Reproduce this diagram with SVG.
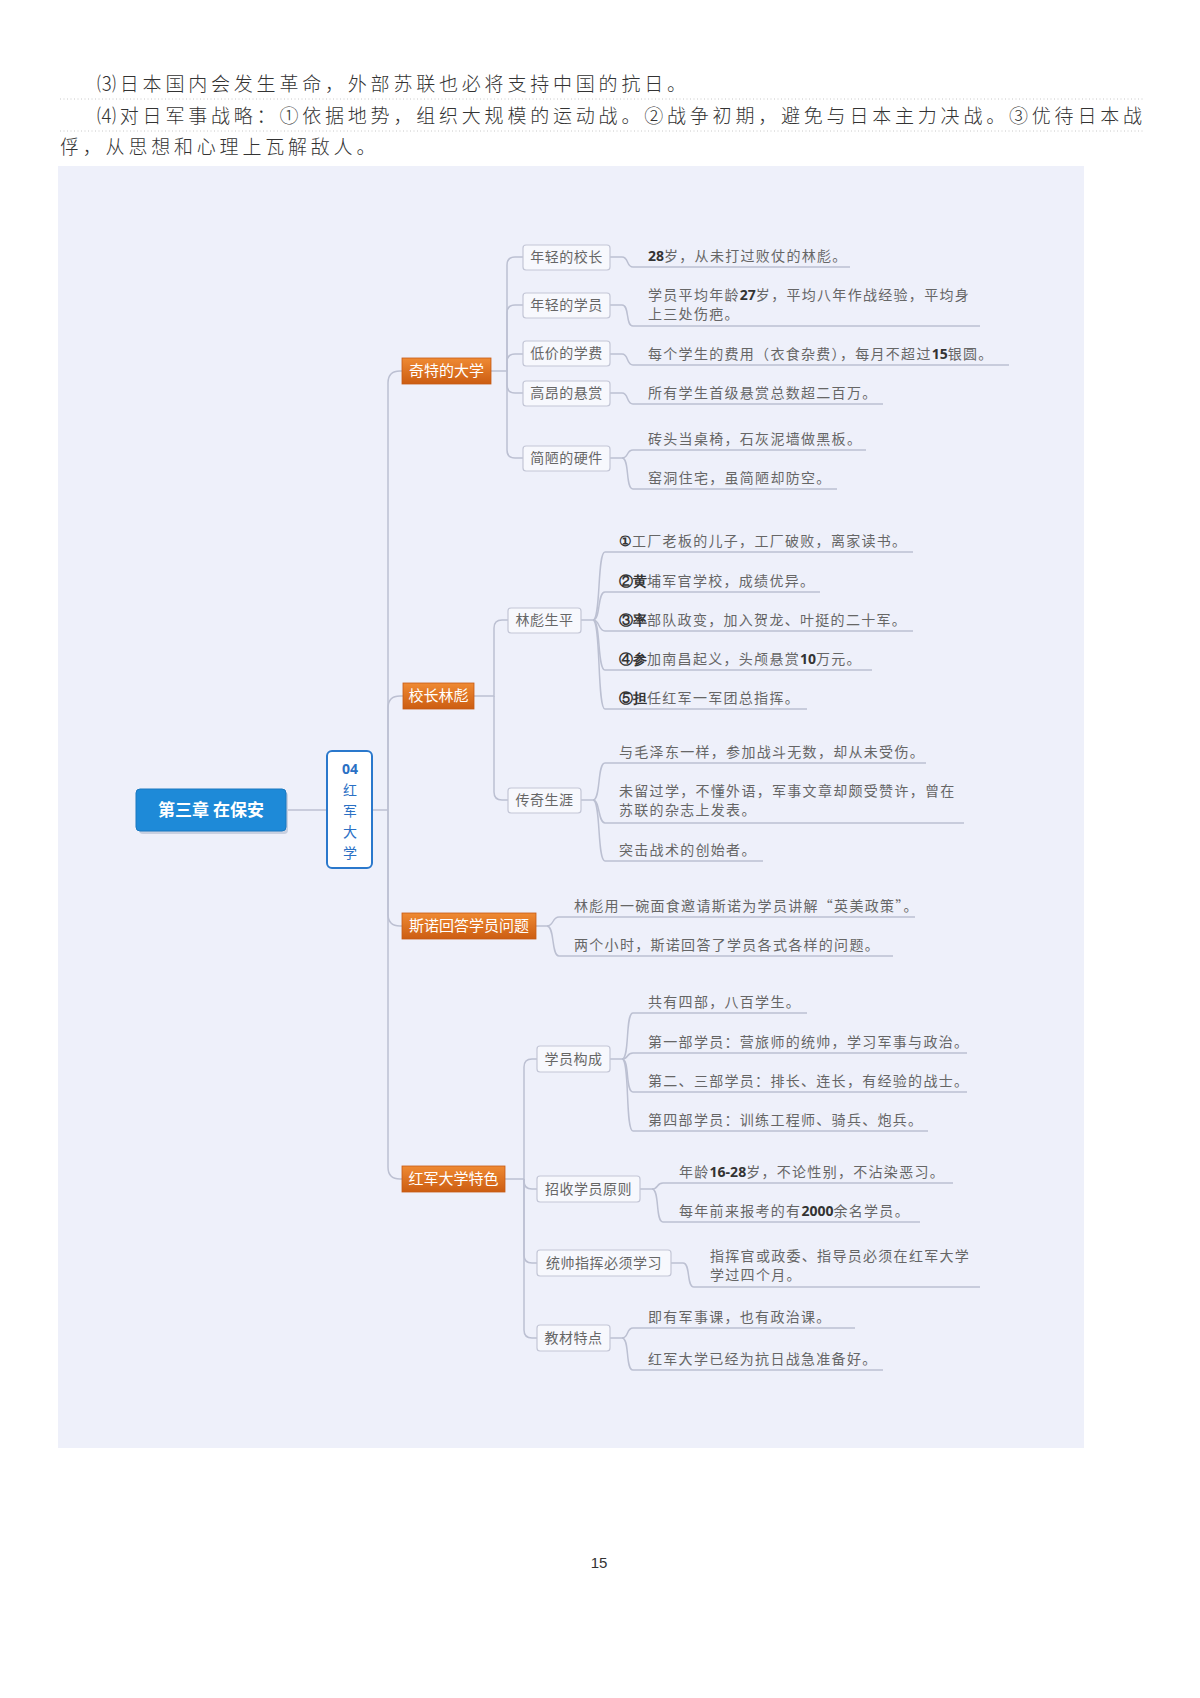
<svg xmlns="http://www.w3.org/2000/svg" width="1200" height="1698" viewBox="0 0 1200 1698">
<defs>
<style>
.top{font-family:"Noto Sans CJK SC","Liberation Serif",serif;font-size:19px;letter-spacing:3.8px;fill:#333;font-weight:300}
.dot{stroke:#c8c8c8;stroke-width:1;stroke-dasharray:1 2.5}
.con{fill:none;stroke:#bcc0d2;stroke-width:1.5}
.leaf{font-family:"Noto Sans CJK SC",sans-serif;font-size:14px;letter-spacing:1.3px;fill:#666}
.n{font-family:"Open Sans","Liberation Sans",sans-serif;font-weight:bold;fill:#333;letter-spacing:0}
.b2{fill:#f7f8fd;stroke:#c3c6d6;stroke-width:1.2}
.t2{font-family:"Noto Sans CJK SC",sans-serif;font-size:14px;fill:#666;text-anchor:middle;letter-spacing:0.5px}
.ob{fill:url(#og);stroke:#c55a14;stroke-width:0.8}
.ot{font-family:"Noto Sans CJK SC",sans-serif;font-size:15px;fill:#fff;text-anchor:middle}
.v{font-family:"Noto Sans CJK SC",sans-serif;font-size:14px;fill:#2a70c4;text-anchor:middle}
</style>
<linearGradient id="og" x1="0" y1="0" x2="0" y2="1">
<stop offset="0" stop-color="#ef8a33"/>
<stop offset="1" stop-color="#cc5d12"/>
</linearGradient>
</defs>
<rect width="1200" height="1698" fill="#fff"/>
<g id="intro">
<text class="top" x="97" y="91">⑶日本国内会发生革命，外部苏联也必将支持中国的抗日。</text>
<line class="dot" x1="60" y1="99" x2="1145" y2="99"/>
<text class="top" x="97" y="123">⑷对日军事战略：①依据地势，组织大规模的运动战。②战争初期，避免与日本主力决战。③优待日本战</text>
<line class="dot" x1="60" y1="131" x2="1145" y2="131"/>
<text class="top" x="60" y="154">俘，从思想和心理上瓦解敌人。</text>
</g>
<rect id="panel" x="58" y="166" width="1026" height="1282" fill="#eef0fa"/>
<g id="connectors">
<path class="con" d="M286,810 H327"/>
<path class="con" d="M372,810 H388"/>
<path class="con" d="M388,810 V383 Q388,371 400,371 H402"/>
<path class="con" d="M388,810 V708 Q388,696 400,696 H403"/>
<path class="con" d="M388,810 V914 Q388,926 400,926 H402"/>
<path class="con" d="M388,810 V1167 Q388,1179 400,1179 H402"/>
<path class="con" d="M491,371 H507 V265 Q507,257 515,257 H523"/>
<path class="con" d="M507,371 V313 Q507,305 515,305 H523"/>
<path class="con" d="M507,371 V362 Q507,354 515,354 H523"/>
<path class="con" d="M507,371 V385 Q507,393 515,393 H523"/>
<path class="con" d="M507,371 V450 Q507,458 515,458 H523"/>
<path class="con" d="M610,257 H622 C629,257 626,267 633,267 H850"/>
<path class="con" d="M610,305 H622 C630,305 625,326 633,326 H980"/>
<path class="con" d="M610,354 H622 C629,354 626,365 633,365 H1009"/>
<path class="con" d="M610,393 H622 C629,393 626,404 633,404 H883"/>
<path class="con" d="M610,458 H622 C629,458 626,450 633,450 H866"/>
<path class="con" d="M622,458 C630,458 625,489 633,489 H837"/>
<path class="con" d="M474,696 H494 V628 Q494,620 502,620 H508"/>
<path class="con" d="M494,696 V792 Q494,800 502,800 H508"/>
<path class="con" d="M581,620 H593 C601,620 597,552 605,552 H913"/>
<path class="con" d="M593,620 C601,620 597,592 605,592 H820"/>
<path class="con" d="M593,620 C600,620 598,631 605,631 H913"/>
<path class="con" d="M593,620 C601,620 597,670 605,670 H872"/>
<path class="con" d="M593,620 C601,620 597,709 605,709 H807"/>
<path class="con" d="M581,800 H593 C601,800 597,763 605,763 H926"/>
<path class="con" d="M593,800 C600,800 598,823 605,823 H964"/>
<path class="con" d="M593,800 C601,800 597,861 605,861 H763"/>
<path class="con" d="M536,926 H547 C554,926 552,917 559,917 H915"/>
<path class="con" d="M547,926 C555,926 551,956 559,956 H893"/>
<path class="con" d="M505,1179 H524 V1067 Q524,1059 532,1059 H537"/>
<path class="con" d="M524,1179 V1181 Q524,1189 532,1189 H537"/>
<path class="con" d="M524,1179 V1255 Q524,1263 532,1263 H537"/>
<path class="con" d="M524,1179 V1330 Q524,1338 532,1338 H537"/>
<path class="con" d="M610,1059 H622 C630,1059 625,1013 633,1013 H807"/>
<path class="con" d="M622,1059 C629,1059 626,1053 633,1053 H967"/>
<path class="con" d="M622,1059 C630,1059 625,1092 633,1092 H967"/>
<path class="con" d="M622,1059 C630,1059 625,1131 633,1131 H928"/>
<path class="con" d="M640,1189 H652 C659,1189 656,1183 663,1183 H953"/>
<path class="con" d="M652,1189 C660,1189 655,1222 663,1222 H920"/>
<path class="con" d="M671,1263 H683 C691,1263 686,1287 694,1287 H980"/>
<path class="con" d="M610,1338 H622 C629,1338 626,1328 633,1328 H855"/>
<path class="con" d="M622,1338 C630,1338 625,1370 633,1370 H883"/>
</g>
<g id="root">
<rect x="139" y="792" width="149" height="42" rx="4" fill="#c9d0e0"/>
<rect x="136" y="789" width="150" height="42" rx="4" fill="#1e8ad8" stroke="#1a78c0" stroke-width="1"/>
<text x="211" y="816" font-family="Noto Sans CJK SC,sans-serif" font-size="17" font-weight="bold" fill="#fff" text-anchor="middle">第三章 在保安</text>
</g>
<g id="n04">
<rect x="327" y="751" width="45" height="117" rx="5" fill="#fff" stroke="#2a78cc" stroke-width="2"/>
<text class="v"><tspan x="350" y="774" font-family="Open Sans,sans-serif" font-weight="bold">04</tspan><tspan x="350" y="795">红</tspan><tspan x="350" y="816">军</tspan><tspan x="350" y="837">大</tspan><tspan x="350" y="858">学</tspan></text>
</g>
<g id="qtdx">
<rect class="ob" x="402" y="358" width="89" height="26"/>
<text class="ot" x="446.5" y="376">奇特的大学</text>
</g>
<g id="xzlb">
<rect class="ob" x="403" y="683" width="71" height="26"/>
<text class="ot" x="438.5" y="701">校长林彪</text>
</g>
<g id="snhd">
<rect class="ob" x="402" y="913" width="134" height="26"/>
<text class="ot" x="469" y="931">斯诺回答学员问题</text>
</g>
<g id="hjts">
<rect class="ob" x="402" y="1166" width="103" height="26"/>
<text class="ot" x="453.5" y="1184">红军大学特色</text>
</g>
<g id="nqxz"><rect class="b2" x="523" y="245" width="87" height="25" rx="3"/><text class="t2" x="566.5" y="262">年轻的校长</text></g>
<g id="nqxy"><rect class="b2" x="523" y="293" width="87" height="25" rx="3"/><text class="t2" x="566.5" y="310">年轻的学员</text></g>
<g id="djxf"><rect class="b2" x="523" y="341" width="87" height="25" rx="3"/><text class="t2" x="566.5" y="358">低价的学费</text></g>
<g id="gaxs"><rect class="b2" x="523" y="381" width="87" height="25" rx="3"/><text class="t2" x="566.5" y="398">高昂的悬赏</text></g>
<g id="jlyj"><rect class="b2" x="523" y="446" width="87" height="25" rx="3"/><text class="t2" x="566.5" y="463">简陋的硬件</text></g>
<g id="lbsp"><rect class="b2" x="508" y="608" width="73" height="25" rx="3"/><text class="t2" x="544.5" y="625">林彪生平</text></g>
<g id="cqsy"><rect class="b2" x="508" y="788" width="73" height="25" rx="3"/><text class="t2" x="544.5" y="805">传奇生涯</text></g>
<g id="xygc"><rect class="b2" x="537" y="1046" width="73" height="26" rx="3"/><text class="t2" x="573.5" y="1064">学员构成</text></g>
<g id="zsyz"><rect class="b2" x="537" y="1176" width="103" height="26" rx="3"/><text class="t2" x="588.5" y="1194">招收学员原则</text></g>
<g id="tszh"><rect class="b2" x="537" y="1250" width="134" height="26" rx="3"/><text class="t2" x="604" y="1268">统帅指挥必须学习</text></g>
<g id="jctd"><rect class="b2" x="537" y="1325" width="73" height="26" rx="3"/><text class="t2" x="573.5" y="1343">教材特点</text></g>
<g id="leaves">
<text class="leaf" x="648" y="261"><tspan class="n">28</tspan>岁，从未打过败仗的林彪。</text>
<text class="leaf" x="648" y="300">学员平均年龄<tspan class="n">27</tspan>岁，平均八年作战经验，平均身</text>
<text class="leaf" x="648" y="319">上三处伤疤。</text>
<text class="leaf" x="648" y="359">每个学生的费用（衣食杂费），每月不超过<tspan class="n">15</tspan>银圆。</text>
<text class="leaf" x="648" y="398">所有学生首级悬赏总数超二百万。</text>
<text class="leaf" x="648" y="444">砖头当桌椅，石灰泥墙做黑板。</text>
<text class="leaf" x="648" y="483">窑洞住宅，虽简陋却防空。</text>
<text class="leaf" x="619" y="546"><tspan class="n">①</tspan>工厂老板的儿子，工厂破败，离家读书。</text>
<text class="leaf" x="619" y="586"><tspan class="n">②黄</tspan>埔军官学校，成绩优异。</text>
<text class="leaf" x="619" y="625"><tspan class="n">③率</tspan>部队政变，加入贺龙、叶挺的二十军。</text>
<text class="leaf" x="619" y="664"><tspan class="n">④参</tspan>加南昌起义，头颅悬赏<tspan class="n">10</tspan>万元。</text>
<text class="leaf" x="619" y="703"><tspan class="n">⑤担</tspan>任红军一军团总指挥。</text>
<text class="leaf" x="619" y="757">与毛泽东一样，参加战斗无数，却从未受伤。</text>
<text class="leaf" x="619" y="796">未留过学，不懂外语，军事文章却颇受赞许，曾在</text>
<text class="leaf" x="619" y="815">苏联的杂志上发表。</text>
<text class="leaf" x="619" y="855">突击战术的创始者。</text>
<text class="leaf" x="574" y="911">林彪用一碗面食邀请斯诺为学员讲解“英美政策”。</text>
<text class="leaf" x="574" y="950">两个小时，斯诺回答了学员各式各样的问题。</text>
<text class="leaf" x="648" y="1007">共有四部，八百学生。</text>
<text class="leaf" x="648" y="1047">第一部学员：营旅师的统帅，学习军事与政治。</text>
<text class="leaf" x="648" y="1086">第二、三部学员：排长、连长，有经验的战士。</text>
<text class="leaf" x="648" y="1125">第四部学员：训练工程师、骑兵、炮兵。</text>
<text class="leaf" x="679" y="1177">年龄<tspan class="n">16-28</tspan>岁，不论性别，不沾染恶习。</text>
<text class="leaf" x="679" y="1216">每年前来报考的有<tspan class="n">2000</tspan>余名学员。</text>
<text class="leaf" x="710" y="1261">指挥官或政委、指导员必须在红军大学</text>
<text class="leaf" x="710" y="1280">学过四个月。</text>
<text class="leaf" x="648" y="1322">即有军事课，也有政治课。</text>
<text class="leaf" x="648" y="1364">红军大学已经为抗日战急准备好。</text>
</g>
<text id="page" x="599" y="1568" font-family="Liberation Sans,sans-serif" font-size="15" fill="#333" text-anchor="middle">15</text>
</svg>
